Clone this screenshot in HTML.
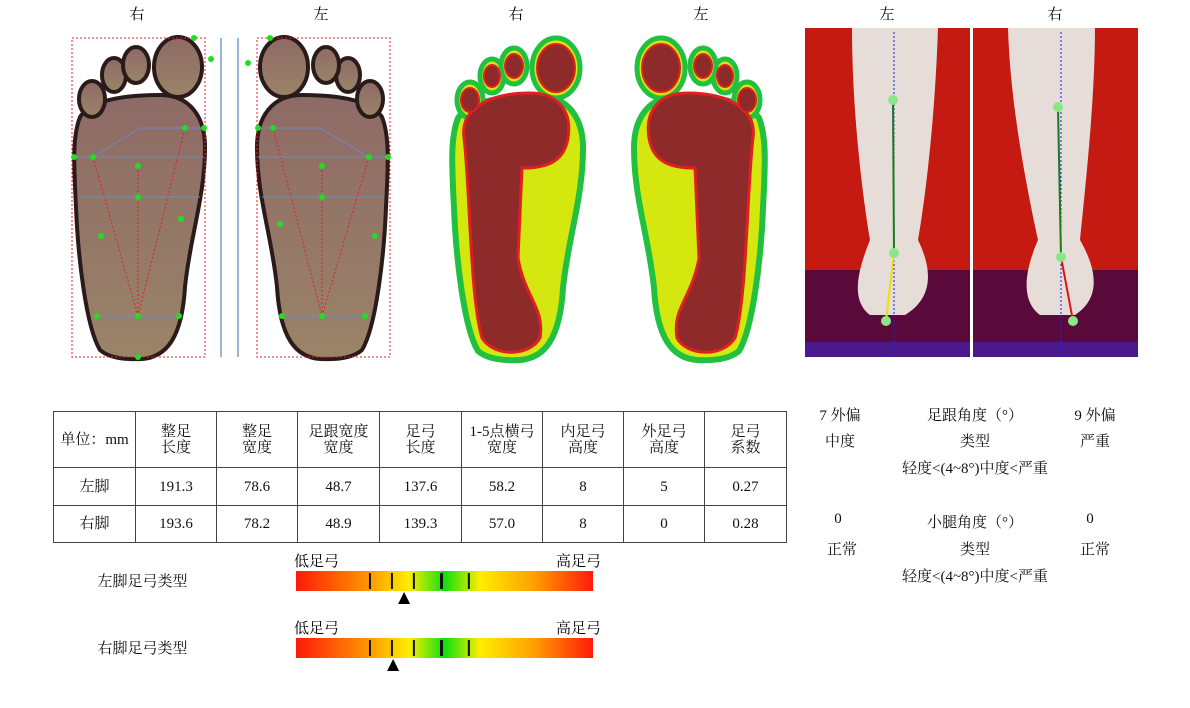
<!DOCTYPE html>
<html><head><meta charset="utf-8">
<style>
body{margin:0;width:1190px;height:708px;background:#fff;position:relative;overflow:hidden;font-family:"Liberation Serif","Noto Serif CJK SC",serif;color:#111}
.t{position:absolute;font-size:15px;text-align:center}
table{position:absolute;left:53px;top:411px;border-collapse:collapse;font-size:15px}
td{border:1px solid #444;text-align:center;padding:0;line-height:16px}
</style></head><body>
<svg width="1190" height="370" style="position:absolute;left:0;top:0">
<defs>
<linearGradient id="skin" x1="0" y1="0" x2="0" y2="1"><stop offset="0" stop-color="#8e6a66"/><stop offset="1" stop-color="#9a8468"/></linearGradient>
<path id="sole" d="M28 313 C14 290 6 220 4 170 C2 130 0 100 8 80 C20 62 55 58 88 58 C118 58 133 80 133 110 C133 160 118 200 113 250 C110 300 95 320 70 322 C50 323 36 320 28 313 Z"/>
<g id="toes"><ellipse cx="20" cy="62" rx="13" ry="18"/><ellipse cx="42" cy="38" rx="12" ry="17"/><ellipse cx="64" cy="28" rx="13" ry="18"/><ellipse cx="106" cy="30" rx="24" ry="30"/></g>
</defs>
<text x="137" y="19" font-size="15" text-anchor="middle">右</text>
<text x="321" y="19" font-size="15" text-anchor="middle">左</text>
<text x="516" y="19" font-size="15" text-anchor="middle">右</text>
<text x="701" y="19" font-size="15" text-anchor="middle">左</text>
<text x="887" y="19" font-size="15" text-anchor="middle">左</text>
<text x="1055" y="19" font-size="15" text-anchor="middle">右</text>
<!-- scanned soles -->
<g transform="translate(72,37)" fill="url(#skin)" stroke="#2a1a1a" stroke-width="4">
<use href="#sole"/><use href="#toes"/></g>
<g transform="translate(390,37) scale(-1,1)" fill="url(#skin)" stroke="#2a1a1a" stroke-width="4">
<use href="#sole"/><use href="#toes"/></g>
<rect x="72" y="38" width="133" height="319" fill="none" stroke="#e02020" stroke-dasharray="2,2"/>
<rect x="257" y="38" width="133" height="319" fill="none" stroke="#e02020" stroke-dasharray="2,2"/>
<line x1="221" y1="38" x2="221" y2="357" stroke="#9ab4d8" stroke-width="2"/>
<line x1="238" y1="38" x2="238" y2="357" stroke="#9ab4d8" stroke-width="2"/>
<g stroke="#e02020" stroke-dasharray="2,2" fill="none">
<path d="M93 157 L138 316 L185 128 M138 166 L138 316"/><path d="M369 157 L322 316 L273 128 M322 166 L322 316"/></g>
<g stroke="#6a8ac8" fill="none"><path d="M74 157 H204 M80 197 H200 M96 316 H180 M93 157 L140 128 H205"/>
<path d="M258 157 H388 M262 197 H382 M280 316 H365 M369 157 L320 128 H258"/></g>
<g fill="#22dd22"><circle cx="74" cy="157" r="3"/><circle cx="93" cy="157" r="3"/><circle cx="138" cy="166" r="3"/><circle cx="138" cy="197" r="3"/><circle cx="185" cy="128" r="3"/><circle cx="204" cy="128" r="3"/><circle cx="181" cy="219" r="3"/><circle cx="101" cy="236" r="3"/><circle cx="97" cy="316" r="3"/><circle cx="138" cy="316" r="3"/><circle cx="179" cy="316" r="3"/><circle cx="138" cy="357" r="3"/><circle cx="194" cy="38" r="3"/><circle cx="211" cy="59" r="3"/>
<circle cx="388" cy="157" r="3"/><circle cx="369" cy="157" r="3"/><circle cx="322" cy="166" r="3"/><circle cx="322" cy="197" r="3"/><circle cx="258" cy="128" r="3"/><circle cx="273" cy="128" r="3"/><circle cx="280" cy="224" r="3"/><circle cx="375" cy="236" r="3"/><circle cx="282" cy="316" r="3"/><circle cx="322" cy="316" r="3"/><circle cx="365" cy="316" r="3"/><circle cx="270" cy="38" r="3"/><circle cx="248" cy="63" r="3"/></g>
<!-- pressure maps -->
<g transform="translate(450,38)">
<use href="#sole" fill="#d4e810" stroke="#22c040" stroke-width="6"/>
<g fill="#d4e810" stroke="#22c040" stroke-width="5"><use href="#toes"/></g>
<path d="M14 100 C10 70 40 55 80 55 C110 55 122 75 118 100 C114 125 95 130 72 130 L68 220 C75 260 95 270 90 300 C80 318 45 320 32 300 C20 260 20 150 14 100 Z" fill="#8e2a2a" stroke="#e02020" stroke-width="3"/>
<g fill="#8e2a2a" stroke="#e02020" stroke-width="2"><ellipse cx="20" cy="62" rx="9" ry="12"/><ellipse cx="42" cy="38" rx="8" ry="11"/><ellipse cx="64" cy="28" rx="9" ry="12"/><ellipse cx="106" cy="30" rx="19" ry="24"/></g></g>
<g transform="translate(767,38) scale(-1,1)">
<use href="#sole" fill="#d4e810" stroke="#22c040" stroke-width="6"/>
<g fill="#d4e810" stroke="#22c040" stroke-width="5"><use href="#toes"/></g>
<path d="M14 100 C10 70 40 55 80 55 C110 55 122 75 118 100 C114 125 95 130 72 130 L68 220 C75 260 95 270 90 300 C80 318 45 320 32 300 C20 260 20 150 14 100 Z" fill="#8e2a2a" stroke="#e02020" stroke-width="3"/>
<g fill="#8e2a2a" stroke="#e02020" stroke-width="2"><ellipse cx="20" cy="62" rx="9" ry="12"/><ellipse cx="42" cy="38" rx="8" ry="11"/><ellipse cx="64" cy="28" rx="9" ry="12"/><ellipse cx="106" cy="30" rx="19" ry="24"/></g></g>
<!-- photos -->
<g>
<rect x="805" y="28" width="165" height="329" fill="#c41a12"/>
<rect x="805" y="270" width="165" height="87" fill="#5a0a3a"/>
<rect x="805" y="342" width="165" height="15" fill="#4a1a8a"/>
<path d="M852 28 H938 C935 120 925 200 918 240 C935 275 930 300 905 315 H870 C850 300 858 270 870 240 C860 180 852 100 852 28 Z" fill="#e6ddd8"/>
<line x1="894" y1="32" x2="894" y2="357" stroke="#2020e0" stroke-dasharray="2,2"/>
<line x1="893" y1="101" x2="894" y2="253" stroke="#1a7a1a" stroke-width="2"/>
<line x1="894" y1="253" x2="886" y2="321" stroke="#f0e000" stroke-width="2"/>
<g fill="#88e888"><circle cx="893" cy="100" r="5"/><circle cx="894" cy="253" r="5"/><circle cx="886" cy="321" r="5"/></g></g>
<g>
<rect x="973" y="28" width="165" height="329" fill="#c41a12"/>
<rect x="973" y="270" width="165" height="87" fill="#5a0a3a"/>
<rect x="973" y="342" width="165" height="15" fill="#4a1a8a"/>
<path d="M1008 28 H1095 C1095 100 1085 190 1080 240 C1100 275 1098 300 1075 315 H1040 C1020 300 1025 270 1038 240 C1025 180 1010 100 1008 28 Z" fill="#e6ddd8"/>
<line x1="1061" y1="32" x2="1061" y2="357" stroke="#2020e0" stroke-dasharray="2,2"/>
<line x1="1058" y1="107" x2="1061" y2="257" stroke="#1a7a1a" stroke-width="2"/>
<line x1="1061" y1="257" x2="1073" y2="321" stroke="#e01010" stroke-width="2"/>
<g fill="#88e888"><circle cx="1058" cy="107" r="5"/><circle cx="1061" cy="257" r="5"/><circle cx="1073" cy="321" r="5"/></g></g>
</svg>

<table>
<tr style="height:56px"><td style="width:81px">单位：mm</td><td style="width:80px">整足<br>长度</td><td style="width:80px">整足<br>宽度</td><td style="width:81px">足跟宽度<br>宽度</td><td style="width:81px">足弓<br>长度</td><td style="width:80px">1-5点横弓<br>宽度</td><td style="width:80px">内足弓<br>高度</td><td style="width:80px">外足弓<br>高度</td><td style="width:81px">足弓<br>系数</td></tr>
<tr style="height:38px"><td>左脚</td><td>191.3</td><td>78.6</td><td>48.7</td><td>137.6</td><td>58.2</td><td>8</td><td>5</td><td>0.27</td></tr>
<tr style="height:37px"><td>右脚</td><td>193.6</td><td>78.2</td><td>48.9</td><td>139.3</td><td>57.0</td><td>8</td><td>0</td><td>0.28</td></tr>
</table>

<div class="t" style="left:85px;top:570px;width:115px">左脚足弓类型</div>
<div class="t" style="left:85px;top:637px;width:115px">右脚足弓类型</div>
<svg id="bars" width="1190" height="708" style="position:absolute;left:0;top:0;pointer-events:none">
<defs><linearGradient id="ag" x1="0" x2="1"><stop offset="0" stop-color="#ff1a0a"/><stop offset="0.25" stop-color="#ff9a00"/><stop offset="0.38" stop-color="#ffee00"/><stop offset="0.5" stop-color="#10e010"/><stop offset="0.62" stop-color="#ffee00"/><stop offset="0.8" stop-color="#ffa000"/><stop offset="1" stop-color="#ff1a0a"/></linearGradient></defs>
</svg>

<div class="t" style="left:810px;top:404px;width:60px">7 外偏</div>
<div class="t" style="left:900px;top:404px;width:150px">足跟角度（°）</div>
<div class="t" style="left:1065px;top:404px;width:60px">9 外偏</div>
<div class="t" style="left:810px;top:430px;width:60px">中度</div>
<div class="t" style="left:900px;top:430px;width:150px">类型</div>
<div class="t" style="left:1065px;top:430px;width:60px">严重</div>
<div class="t" style="left:860px;top:457px;width:230px">轻度<(4~8°)中度<严重</div>
<div class="t" style="left:808px;top:511px;width:60px">0</div>
<div class="t" style="left:900px;top:511px;width:150px">小腿角度（°）</div>
<div class="t" style="left:1060px;top:511px;width:60px">0</div>
<div class="t" style="left:812px;top:538px;width:60px">正常</div>
<div class="t" style="left:900px;top:538px;width:150px">类型</div>
<div class="t" style="left:1065px;top:538px;width:60px">正常</div>
<div class="t" style="left:860px;top:565px;width:230px">轻度<(4~8°)中度<严重</div>

<script>
const tickValues=[0.249,0.323,0.397,0.49,0.582];
const markerValues=[0.364,0.327];
const barTops=[571,638];
const svg=document.getElementById('bars');
const NS='http://www.w3.org/2000/svg';
const X0=296,W=297;
const xs=v=>X0+v*W;
function mk(t,a){const e=document.createElementNS(NS,t);for(const k in a)e.setAttribute(k,a[k]);svg.appendChild(e);return e;}
barTops.forEach((y,i)=>{
 const r=mk('rect',{x:X0,y:y,width:W,height:20,fill:'url(#ag)'});
 
 
 const lo=mk('text',{x:X0-2,y:y-5,'font-size':15});lo.textContent='低足弓';
 
 
 const hi=mk('text',{x:X0+W+8,y:y-5,'font-size':15,'text-anchor':'end'});hi.textContent='高足弓';
 
 
 tickValues.forEach((v,j)=>{const l=mk('line',{x1:xs(v),x2:xs(v),y1:y+2,y2:y+18,stroke:'#111','stroke-width':j==3?3:2});
  
  });
 const m=xs(markerValues[i]);
 const p=mk('polygon',{points:`${m},${y+21} ${m-6},${y+33} ${m+6},${y+33}`,fill:'#000'});
 
 
});
</script>
</body></html>
